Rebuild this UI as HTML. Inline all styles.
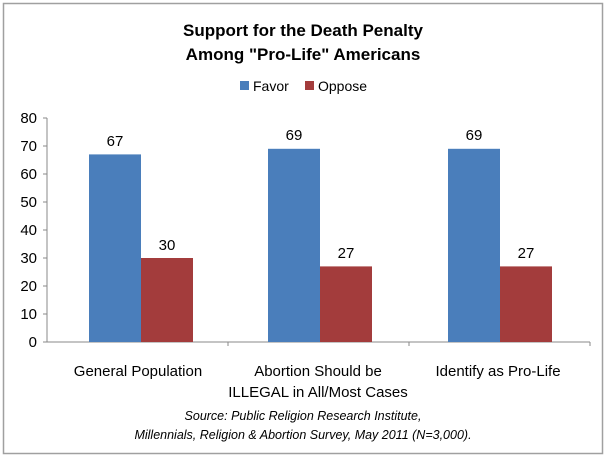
<!DOCTYPE html>
<html><head><style>
body{margin:0;background:#fff;}
text{font-family:"Liberation Sans",sans-serif;fill:#000;}
</style></head><body>
<svg width="606" height="458" xmlns="http://www.w3.org/2000/svg">
<rect x="3.5" y="3.5" width="599" height="450" fill="#fff" stroke="#a0a0a0" stroke-width="1.5"/>
<text x="303" y="36" font-size="17" font-weight="bold" text-anchor="middle">Support for the Death Penalty</text>
<text x="303" y="60" font-size="17" font-weight="bold" text-anchor="middle">Among "Pro-Life" Americans</text>
<rect x="240" y="81" width="9" height="9" fill="#4a7ebb"/>
<text x="253" y="91" font-size="14">Favor</text>
<rect x="305" y="81" width="9" height="9" fill="#a33c3c"/>
<text x="318" y="91" font-size="14">Oppose</text>
<g font-size="15" text-anchor="end">
<text x="37" y="123">80</text><text x="37" y="151">70</text><text x="37" y="179">60</text>
<text x="37" y="207">50</text><text x="37" y="235">40</text><text x="37" y="263">30</text>
<text x="37" y="291">20</text><text x="37" y="319">10</text><text x="37" y="347">0</text>
</g>
<g stroke="#888" stroke-width="1">
<line x1="47" y1="118" x2="47" y2="342"/>
<line x1="47" y1="342" x2="590" y2="342"/>
<line x1="43" y1="118" x2="47" y2="118"/><line x1="43" y1="146" x2="47" y2="146"/>
<line x1="43" y1="174" x2="47" y2="174"/><line x1="43" y1="202" x2="47" y2="202"/>
<line x1="43" y1="230" x2="47" y2="230"/><line x1="43" y1="258" x2="47" y2="258"/>
<line x1="43" y1="286" x2="47" y2="286"/><line x1="43" y1="314" x2="47" y2="314"/>
<line x1="43" y1="342" x2="47" y2="342"/>
<line x1="228" y1="342" x2="228" y2="346"/><line x1="409" y1="342" x2="409" y2="346"/><line x1="590" y1="342" x2="590" y2="346"/>
</g>
<rect x="89" y="154.4" width="52" height="187.6" fill="#4a7ebb"/>
<rect x="141" y="258" width="52" height="84" fill="#a33c3c"/>
<rect x="268" y="148.8" width="52" height="193.2" fill="#4a7ebb"/>
<rect x="320" y="266.4" width="52" height="75.6" fill="#a33c3c"/>
<rect x="448" y="148.8" width="52" height="193.2" fill="#4a7ebb"/>
<rect x="500" y="266.4" width="52" height="75.6" fill="#a33c3c"/>
<g font-size="15" text-anchor="middle">
<text x="115" y="146">67</text><text x="167" y="250">30</text>
<text x="294" y="140">69</text><text x="346" y="258">27</text>
<text x="474" y="140">69</text><text x="526" y="258">27</text>
<text x="138" y="376">General Population</text>
<text x="318" y="376">Abortion Should be</text>
<text x="318" y="397">ILLEGAL in All/Most Cases</text>
<text x="498" y="376">Identify as Pro-Life</text>
</g>
<g font-size="12.5" font-style="italic" text-anchor="middle">
<text x="303" y="420">Source: Public Religion Research Institute,</text>
<text x="303" y="439">Millennials, Religion &amp; Abortion Survey, May 2011 (N=3,000).</text>
</g>
</svg>
</body></html>
